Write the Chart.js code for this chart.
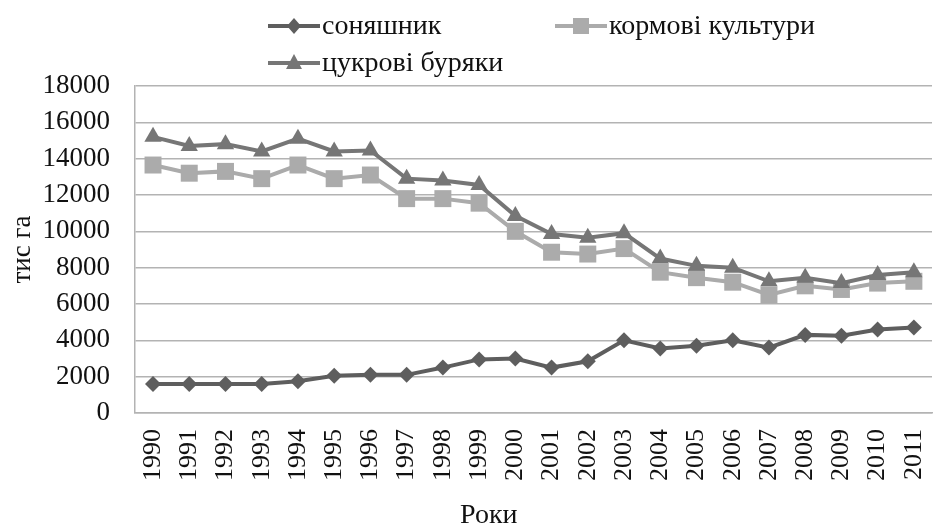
<!DOCTYPE html>
<html>
<head>
<meta charset="utf-8">
<script src="https://cdn.jsdelivr.net/npm/chart.js@4"></script>
<style>
    body { margin: 0; background: #fff; }
    #wrap { position: relative; width: 934px; height: 528px; }
    .leg { position: absolute; font-family: "Liberation Serif", "Times New Roman", serif; font-size: 28px; color: #111; white-space: nowrap; line-height: 28px; }
    .leg svg { vertical-align: middle; margin-right: 2px; position: relative; top: -2px; }
    #xtitle { position: absolute; left: 460px; top: 498px; font-family: "Liberation Serif", serif; font-size: 28px; color: #111; }
</style>
</head>
<body>
<div id="wrap">
    <canvas id="lineChart" width="934" height="528"></canvas>
    <div class="leg" style="left:268px; top:11px;"><svg width="52" height="20"><line x1="0" y1="10" x2="52" y2="10" stroke="#5e5e5e" stroke-width="4"/><polygon points="26,2 33,10 26,18 19,10" fill="#5e5e5e"/></svg>соняшник</div>
    <div class="leg" style="left:555px; top:11px;"><svg width="52" height="20"><line x1="0" y1="10" x2="52" y2="10" stroke="#ababab" stroke-width="4"/><rect x="18" y="2" width="16" height="16" fill="#ababab"/></svg>кормові культури</div>
    <div class="leg" style="left:268px; top:48px;"><svg width="52" height="20"><line x1="0" y1="10" x2="52" y2="10" stroke="#767676" stroke-width="4"/><polygon points="26,1 34,16 18,16" fill="#767676"/></svg>цукрові буряки</div>
    <div id="xtitle">Роки</div>
</div>
<script>
// years and areas, thousand ha
var years = ["1990","1991","1992","1993","1994","1995","1996","1997","1998","1999","2000",
             "2001","2002","2003","2004","2005","2006","2007","2008","2009","2010","2011"];
var sunflower = [1600,1600,1600,1600,1750,2050,2100,2100,2500,2950,3000,2500,2850,4000,3550,3700,4000,3600,4300,4250,4600,4700];
var fodder    = [13650,13200,13300,12900,13650,12900,13100,11800,11800,11550,10000,8850,8750,9050,7750,7450,7200,6500,7000,6800,7150,7250];
var sugarBeet = [15200,14700,14800,14400,15100,14400,14450,12900,12800,12550,10850,9850,9650,9900,8500,8100,8000,7250,7450,7150,7600,7750];
var seriesNames = ["соняшник", "кормові культури", "цукрові буряки"];
var yTicks = { min: 0, max: 18000, step: 2000 };

const serif = "'Liberation Serif', 'Times New Roman', serif";

function makeSet(label, values, color, shape, radius, order) {
    return {
        label: label,
        data: values,
        borderColor: color,
        backgroundColor: color,
        borderWidth: 4,
        pointStyle: shape,
        pointRadius: radius,
        pointHoverRadius: radius,
        pointBorderWidth: 0,
        pointBackgroundColor: color,
        tension: 0,
        order: order
    };
}

const data = {
    labels: years,
    datasets: [
        makeSet(seriesNames[0], sunflower, "#5e5e5e", "rectRot", 8, 2),
        makeSet(seriesNames[1], fodder, "#ababab", "rect", 12, 1),
        makeSet(seriesNames[2], sugarBeet, "#767676", "triangle", 10, 0)
    ]
};

const options = {
    responsive: false,
    animation: false,
    layout: { autoPadding: false, padding: { top: 86, left: 4, right: 2, bottom: 31 } },
    plugins: {
        legend: { display: false },
        tooltip: { enabled: false }
    },
    scales: {
        x: {
            offset: true,
            grid: { display: false, drawTicks: false },
            border: { display: true, color: "#b3b3b3", width: 1.5 },
            ticks: {
                minRotation: 90, maxRotation: 90, padding: 16, autoSkip: false,
                color: "#111", font: { family: serif, size: 26, lineHeight: 0.05 }
            }
        },
        y: {
            min: yTicks.min, max: yTicks.max,
            grid: { color: "#b3b3b3", lineWidth: 1.5, drawTicks: false },
            border: { display: true, color: "#b3b3b3", width: 1.5 },
            ticks: {
                stepSize: yTicks.step, padding: 25, autoSkip: false,
                color: "#111", font: { family: serif, size: 27 },
                callback: function (v) { return String(v); }
            },
            title: {
                display: true, text: "тис га", color: "#111",
                font: { family: serif, size: 27 }, padding: { top: 3, bottom: -22 }
            }
        }
    }
};

var myChart = new Chart(document.getElementById("lineChart").getContext("2d"), {
    type: "line",
    data: data,
    options: options
});
</script>
</body>
</html>
